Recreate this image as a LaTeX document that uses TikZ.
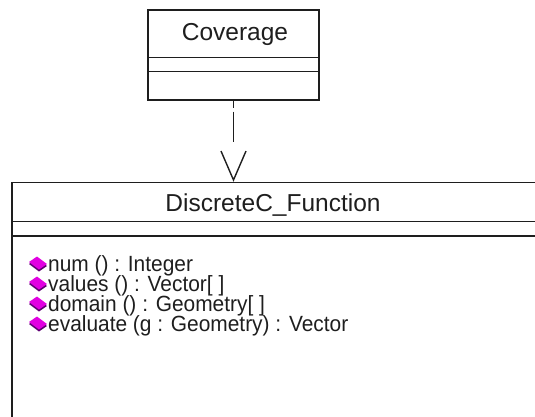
\documentclass[tikz,border=0pt]{standalone}
\usepackage{fontspec}
\setmainfont{Liberation Sans}
\newfontfamily\opfont[FakeStretch=0.95]{Liberation Sans}
\usetikzlibrary{arrows.meta,calc}
\definecolor{mag}{RGB}{225,0,225}
\definecolor{magdark}{RGB}{95,0,115}
\definecolor{ink}{RGB}{30,30,30}
\begin{document}
\begin{tikzpicture}[x=1pt,y=-1pt,
  classbox/.style={draw=ink,line width=1.4pt,inner sep=0pt},
  sepline/.style={draw=ink,line width=1.4pt},
  lbl/.style={inner sep=0pt,text=ink,font=\fontsize{24.5}{28}\selectfont},
  oplbl/.style={inner sep=0pt,text=ink,font=\opfont\fontsize{22}{24}\selectfont},
  dep/.style={draw=ink,line width=1.4pt,dash pattern=on 7pt off 4pt on 30pt off 60pt,
    -{Straight Barb[length=29pt,width=25pt]}},
  opicon/.pic={
    \fill[magdark] (-9,1) -- (-1,-4.5) -- (9,3) -- (1,8.5) -- cycle;
    \fill[mag] (-9,-1) -- (-1,-6.5) -- (9,1) -- (1,6.5) -- cycle;
  }]
\useasboundingbox (0,0) rectangle (535,417);
\clip (0,0) rectangle (535,417);

% Coverage class
\node[classbox,minimum width=171pt,minimum height=90pt] (cov) at (233.5,55) {};
\draw[sepline] ($(cov.north west)+(0,48)$) -- ($(cov.north east)+(0,48)$);
\draw[sepline] ($(cov.north west)+(0,62)$) -- ($(cov.north east)+(0,62)$);
\node[lbl,anchor=base] (covname) at (235,41) {Coverage};

% DiscreteC_Function class
\node[classbox,minimum width=526pt,minimum height=250pt] (dcf) at (275,307.5) {};
\draw[sepline] ($(dcf.north west)+(0,39.5)$) -- ($(dcf.north east)+(0,39.5)$);
\draw[sepline] ($(dcf.north west)+(0,54)$) -- ($(dcf.north east)+(0,54)$);
\node[lbl,anchor=base] (dcfname) at (273,211) {DiscreteC\_Function};

% operations
\node[oplbl,anchor=base west] (m1) at (48,271) {num () : Integer};
\node[oplbl,anchor=base west] (m2) at (48,291) {values () : Vector[ ]};
\node[oplbl,anchor=base west] (m3) at (48,311) {domain () : Geometry[ ]};
\node[oplbl,anchor=base west] (m4) at (48,331) {evaluate (g : Geometry) : Vector};
\foreach \m in {m1,m2,m3,m4}{
  \pic at ($(\m.base west)+(-10,-8)$) {opicon};
}

% dependency
\draw[dep] (cov.south) -- (cov.south |- dcf.north);
\end{tikzpicture}
\end{document}
